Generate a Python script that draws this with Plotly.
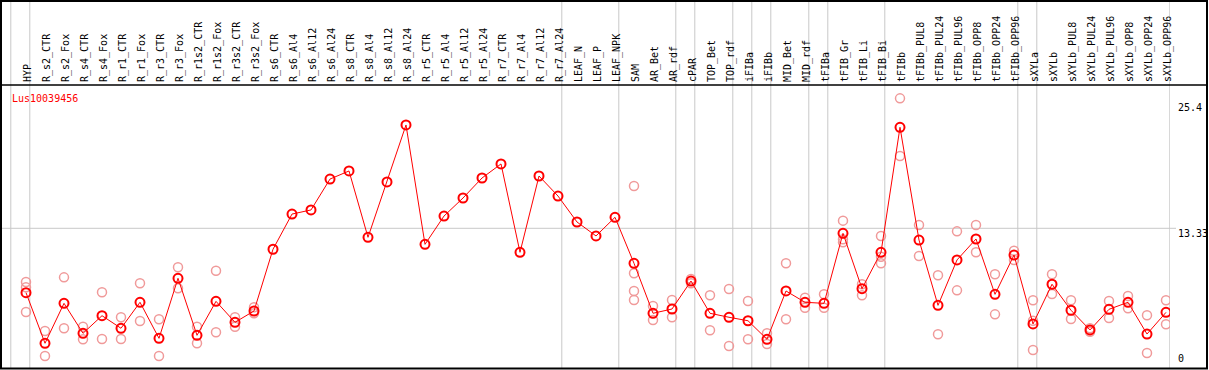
import plotly.graph_objects as go

categories = ["HYP", "R_s2_CTR", "R_s2_Fox", "R_s4_CTR", "R_s4_Fox", "R_r1_CTR", "R_r1_Fox",
              "R_r3_CTR", "R_r3_Fox", "R_r1s2_CTR", "R_r1s2_Fox", "R_r3s2_CTR", "R_r3s2_Fox",
              "R_s6_CTR", "R_s6_Al4", "R_s6_Al12", "R_s6_Al24", "R_s8_CTR", "R_s8_Al4", "R_s8_Al12",
              "R_s8_Al24", "R_r5_CTR", "R_r5_Al4", "R_r5_Al12", "R_r5_Al24", "R_r7_CTR", "R_r7_Al4",
              "R_r7_Al12", "R_r7_Al24", "LEAF_N", "LEAF_P", "LEAF_NPK", "SAM", "AR_Bet", "AR_rdf",
              "cPAR", "TOP_Bet", "TOP_rdf", "iFIBa", "iFIBb", "MID_Bet", "MID_rdf", "tFIBa",
              "tFIB_Gr", "tFIB_Li", "tFIB_Bi", "tFIBb", "tFIBb_PUL8", "tFIBb_PUL24", "tFIBb_PUL96",
              "tFIBb_OPP8", "tFIBb_OPP24", "tFIBb_OPP96", "sXYLa", "sXYLb", "sXYLb_PUL8",
              "sXYLb_PUL24", "sXYLb_PUL96", "sXYLb_OPP8", "sXYLb_OPP24", "sXYLb_OPP96"]

mean_values = [7.19, 2.36, 6.17, 3.31, 4.99, 3.79, 6.27, 2.83, 8.56, 3.12, 6.36, 4.36, 5.44,
               11.33, 14.69, 15.08, 18.03, 18.80, 12.47, 17.75, 23.19, 11.80, 14.50, 16.22, 18.13,
               19.47, 11.04, 18.32, 16.41, 13.93, 12.60, 14.38,
               9.99, 5.22, 5.63, 8.30, 5.22, 4.84, 4.51, 2.74, 7.35, 6.27, 6.17, 12.85, 7.57, 11.04,
               22.97, 12.21, 5.98, 10.31, 12.31, 7.03, 10.78, 4.20, 7.99, 5.51, 3.63, 5.60, 6.27,
               3.24, 5.31]

replicate_values = [
    [8.21, 7.70, 5.34], [3.53, 1.15], [8.65, 3.79], [3.94, 2.74], [7.22, 2.77], [4.84, 2.77],
    [8.08, 4.48], [4.65, 1.15], [9.61, 7.61], [3.94, 2.36], [9.28, 3.41], [4.84, 3.94],
    [5.79, 5.22],
    [], [], [], [], [], [], [], [], [], [], [], [], [], [], [], [], [], [], [],
    [17.37, 9.04, 7.35, 6.49], [5.92, 4.58], [6.49, 4.84], [8.49, 8.08], [6.94, 3.60],
    [7.54, 2.10], [6.39, 2.74], [3.31, 2.29], [9.99, 4.65], [6.71, 5.75], [7.03, 5.75],
    [14.06, 12.28, 11.99], [7.99, 6.94], [12.60, 10.62, 9.99], [25.73, 20.23], [13.65, 10.69],
    [8.85, 3.22], [13.04, 7.41], [13.65, 11.04], [8.94, 5.12], [11.19, 10.31],
    [6.46, 4.51, 1.72], [8.94, 7.06], [6.46, 4.68], [3.79, 3.46], [6.39, 4.77], [6.87, 5.70],
    [5.03, 1.43], [6.46, 4.17]]

group_ends = [-1, 0, 28, 31, 34, 35, 37, 38, 39, 41, 42, 45, 52, 53, 60]
y_tick_values = [25.4, 13.33, 0]
y_tick_labels = ["25.4", "13.33", "0"]
gene_name = "Lus10039456"

MONO = "DejaVu Sans Mono"
W, H = 1209, 370
ML, MR, MT, MB = 1, 39, 85, 2
PW = W - ML - MR
PH = H - MT - MB

idx = list(range(len(categories)))
rx, ry = [], []
for i, reps in enumerate(replicate_values):
    for v in reps:
        rx.append(i)
        ry.append(v)

fig = go.Figure()
fig.add_trace(go.Scatter(
    x=rx, y=ry, mode="markers",
    marker=dict(symbol="circle-open", size=9, color="#F09A9A", line=dict(width=1.5)),
    hoverinfo="skip", showlegend=False))
fig.add_trace(go.Scatter(
    x=idx, y=mean_values, mode="lines+markers",
    line=dict(color="#FF0000", width=1),
    marker=dict(symbol="circle-open", size=9, color="#FF0000", line=dict(width=2)),
    showlegend=False))

shapes = []
top_paper = 1 + MT / PH
for g in group_ends:
    shapes.append(dict(type="line", xref="x", yref="paper", x0=g + 0.2, x1=g + 0.2,
                       y0=0, y1=top_paper, line=dict(color="#C8C8C8", width=1), layer="below"))
# horizontal grid line at middle tick
shapes.append(dict(type="line", xref="paper", yref="y", x0=-1 / PW, x1=(1176 - ML) / PW,
                   y0=y_tick_values[1], y1=y_tick_values[1],
                   line=dict(color="#C8C8C8", width=1), layer="below"))
# header separator
shapes.append(dict(type="line", xref="paper", yref="paper", x0=-1 / PW, x1=(1208 - ML) / PW,
                   y0=1, y1=1, line=dict(color="black", width=1.5)))
# outer frame
shapes.append(dict(type="rect", xref="paper", yref="paper",
                   x0=(1 - ML) / PW, x1=(1207 - ML) / PW,
                   y0=1 - (368.5 - MT) / PH, y1=1 - (1 - MT) / PH,
                   line=dict(color="black", width=2)))

annotations = [dict(text=gene_name, xref="paper", yref="paper", x=(10 - ML) / PW,
                    y=1 - (98 - MT) / PH, xanchor="left", yanchor="middle", showarrow=False,
                    font=dict(family=MONO, size=10, color="#FF0000"))]
for v, t in zip(y_tick_values, y_tick_labels):
    annotations.append(dict(text=t, xref="paper", yref="y", x=1, y=v, xanchor="left",
                            xshift=6, yanchor="bottom" if v == 0 else "top",
                            yshift=2, showarrow=False,
                            font=dict(family=MONO, size=10, color="black")))

fig.update_layout(
    width=W, height=H,
    margin=dict(l=ML, r=MR, t=MT, b=MB),
    paper_bgcolor="white", plot_bgcolor="white",
    shapes=shapes, annotations=annotations,
    xaxis=dict(side="top", range=[-25 / 19, -25 / 19 + PW / 19], tickmode="array",
               tickvals=idx, ticktext=categories, tickangle=-90, ticks="",
               ticklabelshift=2, ticklabelstandoff=2,
               tickfont=dict(family=MONO, size=10, color="black"),
               showgrid=False, zeroline=False, showline=False, automargin=False),
    yaxis=dict(range=[0, (368 - MT) / 10.48], showgrid=False,
               zeroline=False, showline=False, showticklabels=False, automargin=False),
)

fig.write_html("out.html", config={"displayModeBar": False},
               post_script="document.body.style.margin='0';document.body.style.padding='0';"
                           "document.body.style.overflow='hidden';")
